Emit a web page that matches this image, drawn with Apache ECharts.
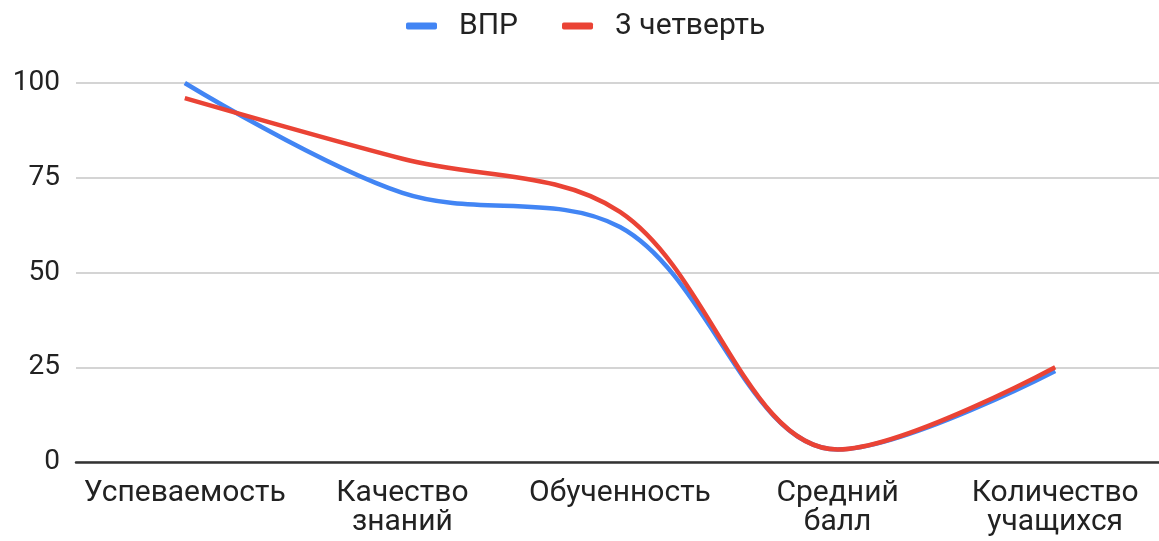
<!DOCTYPE html>
<html lang="ru">
<head>
<meta charset="utf-8">
<title>ВПР и 3 четверть</title>
<script src="https://cdn.jsdelivr.net/npm/echarts@6/dist/echarts.min.js"></script>
<style>
  html, body {
    margin: 0;
    padding: 0;
    background: #ffffff;
  }

  #chart {
    width: 1159px;
    height: 541px;
  }
</style>
</head>
<body>
<div id="chart"></div>
<script>
// данные
const categories = ['Успеваемость', 'Качество\nзнаний', 'Обученность', 'Средний\nбалл', 'Количество\nучащихся']
const vprValues = [100, 71, 62, 3.3, 24]
const quarterValues = [96, 80, 66, 3.3, 25]
const yTicks = [0, 25, 50, 75, 100]

const SERIES_COLORS = {
  vpr: '#4285f4',
  quarter: '#ea4335',
}

const FONT = 'Roboto, "Liberation Sans", Arial, sans-serif'
const TEXT_COLOR = '#222222'

const chart = echarts.init(document.getElementById('chart'), null, { renderer: 'canvas' })

const option = {
  animation: false,
  color: [SERIES_COLORS.vpr, SERIES_COLORS.quarter],
  legend: {
    data: ['ВПР', '3 четверть'],
    top: 6,
    left: 401,
    itemWidth: 31,
    itemHeight: 7,
    itemGap: 44,
    icon: 'roundRect',
    textStyle: {
      color: TEXT_COLOR,
      fontFamily: FONT,
      fontSize: 30,
      padding: [0, 0, 0, 17],
    },
  },
  grid: {
    top: 83,
    left: 76,
    width: 1088,
    bottom: 79,
    containLabel: false,
    outerBoundsMode: 'none',
  },
  xAxis: {
    type: 'category',
    boundaryGap: true,
    data: categories,
    axisLine: {
      lineStyle: {
        color: '#333333',
        width: 2.5,
      },
    },
    axisTick: { show: false },
    axisLabel: {
      color: TEXT_COLOR,
      fontFamily: FONT,
      fontSize: 30,
      lineHeight: 29,
      margin: 17,
      interval: 0,
    },
  },
  yAxis: {
    type: 'value',
    min: yTicks[0],
    max: yTicks[yTicks.length - 1],
    interval: yTicks[1] - yTicks[0],
    axisLine: { show: false },
    axisTick: { show: false },
    axisLabel: {
      color: TEXT_COLOR,
      fontFamily: FONT,
      fontSize: 28,
      margin: 16,
    },
    splitLine: {
      lineStyle: {
        color: '#d4d4d4',
        width: 2,
      },
    },
  },
  series: [
    {
      name: 'ВПР',
      type: 'line',
      smooth: 0.35,
      showSymbol: false,
      data: vprValues,
      lineStyle: { width: 4.5 },
    },
    {
      name: '3 четверть',
      type: 'line',
      smooth: 0.35,
      showSymbol: false,
      data: quarterValues,
      lineStyle: { width: 4.5 },
    },
  ],
}

chart.setOption(option)
</script>
</body>
</html>
